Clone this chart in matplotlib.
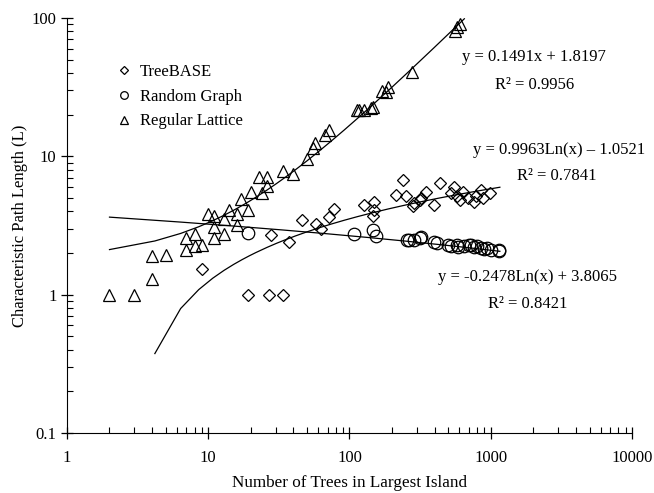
import numpy as np
import matplotlib
matplotlib.use("Agg")
import matplotlib.pyplot as plt
from matplotlib.lines import Line2D

plt.rcParams['font.family'] = ['Liberation Serif', 'DejaVu Serif']

# TreeBASE islands
tree_x = [9, 19, 27, 34, 28, 37, 46, 58, 63, 72, 78, 126, 150, 150, 147, 212, 240, 250,
          283, 285, 317, 323, 347, 398, 440, 520, 548, 575, 610, 640, 685, 755, 785, 850,
          875, 980]
tree_y = [1.53, 1.0, 1.0, 1.0, 2.7, 2.4, 3.45, 3.25, 3.0, 3.65, 4.15, 4.45, 4.7, 4.1, 3.7,
          5.25, 6.7, 5.2, 4.4, 4.6, 4.85, 5.0, 5.55, 4.45, 6.45, 5.4, 6.05, 5.2, 4.85, 5.55,
          5.0, 4.7, 5.2, 5.7, 5.0, 5.4]

# random graphs
rand_x = [19, 107, 147, 153, 255, 262, 285, 318, 323, 398, 418, 495, 520, 580, 590, 650,
          700, 720, 760, 805, 850, 895, 945, 1000, 1140, 1150]
rand_y = [2.8, 2.75, 2.95, 2.65, 2.5, 2.47, 2.47, 2.57, 2.6, 2.4, 2.36, 2.3, 2.26, 2.3,
          2.2, 2.25, 2.3, 2.28, 2.2, 2.23, 2.18, 2.14, 2.17, 2.12, 2.1, 2.08]

# regular lattices
latt_x = [2, 3, 4, 4, 5, 7, 7, 8, 8, 9, 10, 11, 11, 11, 13, 13, 14, 16, 16, 17, 19, 20,
          23, 24, 26, 26, 34, 40, 50, 55, 57, 67, 72, 113, 116, 126, 141, 147, 171, 180,
          187, 278, 555, 580, 605]
latt_y = [1.0, 1.0, 1.3, 1.9, 1.95, 2.1, 2.55, 2.25, 2.75, 2.3, 3.8, 2.55, 3.1, 3.7, 2.75,
          3.5, 4.1, 3.2, 3.85, 4.9, 4.1, 5.5, 7.1, 5.4, 6.1, 7.1, 7.8, 7.5, 9.5, 11.4, 12.4,
          14.3, 15.5, 21.7, 21.7, 21.5, 22.3, 22.7, 29.6, 29, 31.6, 41, 81, 86.5, 90]

# trendline equations shown on the chart
latt_a, latt_b = 0.1491, 1.8197
tree_a, tree_b = 0.9963, -1.0521
rand_a, rand_b = -0.2478, 3.8065

fig = plt.figure(figsize=(6.54, 4.93), dpi=100)
ax = fig.add_axes([0.1024, 0.1217, 0.864, 0.8418])

# trendlines, sampled the way Excel does (evenly in linear x)
xs = np.linspace(2, 1160, 530)
xl = xs[xs <= 650]
ax.plot(xl, latt_a * xl + latt_b, color='black', lw=0.9)
yt = tree_a * np.log(xs) + tree_b
ax.plot(xs[yt > 0], yt[yt > 0], color='black', lw=0.9)
ax.plot(xs, rand_a * np.log(xs) + rand_b, color='black', lw=0.9)

ax.plot(tree_x, tree_y, 'D', ms=6, mfc='none', mec='black', mew=0.9, ls='none')
ax.plot(rand_x, rand_y, 'o', ms=9, mfc='none', mec='black', mew=0.9, ls='none')
ax.plot(latt_x, latt_y, '^', ms=9.2, mfc='none', mec='black', mew=0.9, ls='none')

ax.set_xscale('log')
ax.set_yscale('log')
ax.set_xlim(1, 10000)
ax.set_ylim(0.1, 100)
ax.set_xticks([1, 10, 100, 1000, 10000])
ax.set_xticklabels(['1', '10', '100', '1000', '10000'])
ax.set_yticks([0.1, 1, 10, 100])
ax.set_yticklabels(['0.1', '1', '10', '100'])

ax.spines['top'].set_visible(False)
ax.spines['right'].set_visible(False)
ax.tick_params(which='major', direction='inout', length=8, width=0.9, labelsize=12)
ax.tick_params(which='minor', direction='in', length=4, width=0.8)
ax.tick_params(axis='x', pad=8)

ax.set_xlabel('Number of Trees in Largest Island', fontsize=12.3, labelpad=7)
ax.set_ylabel('Characteristic Path Length (L)', fontsize=12, labelpad=3)

handles = [
    Line2D([], [], marker='D', ms=4.2, mfc='none', mec='black', mew=0.9, ls='none'),
    Line2D([], [], marker='o', ms=5.5, mfc='none', mec='black', mew=0.9, ls='none'),
    Line2D([], [], marker='^', ms=5.8, mfc='none', mec='black', mew=0.9, ls='none'),
]
ax.legend(handles, ['TreeBASE', 'Random Graph', 'Regular Lattice'],
          loc='upper left', bbox_to_anchor=(0.078, 0.905), frameon=False, fontsize=12,
          handlelength=0.8, handletextpad=0.55, labelspacing=0.52, borderaxespad=0)

def fig_text(px, py, s):
    fig.text(px / 654, 1 - py / 493, s, ha='center', va='center', fontsize=12)

fig_text(534, 57, 'y = 0.1491x + 1.8197')
fig_text(535, 85, 'R² = 0.9956')
fig_text(559, 150, 'y = 0.9963Ln(x) – 1.0521')
fig_text(557, 176, 'R² = 0.7841')
fig_text(528, 277, 'y = -0.2478Ln(x) + 3.8065')
fig_text(528, 304, 'R² = 0.8421')

fig.savefig('out.png', dpi=100)
